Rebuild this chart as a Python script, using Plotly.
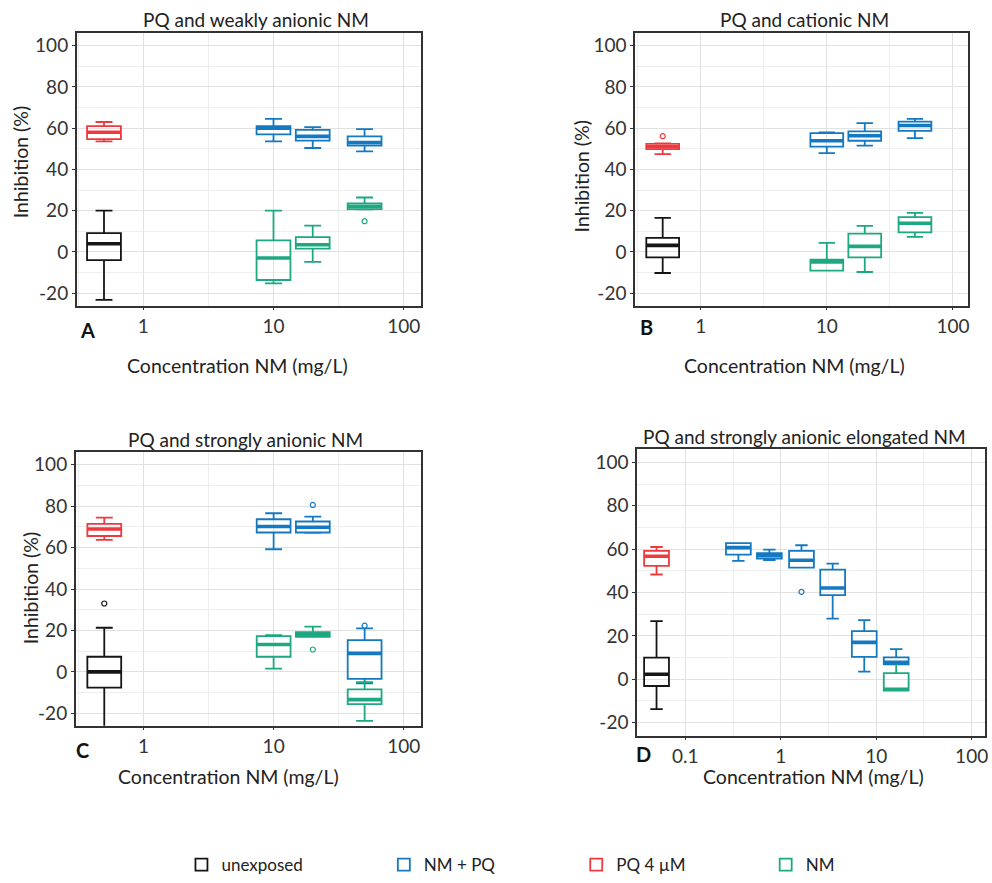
import numpy as np
import plotly.graph_objects as go

# ---------------- data (5-number summaries: low whisker, Q1, median, Q3, high whisker) ----------------
SERIES = ["unexposed", "NM + PQ", "PQ 4 µM", "NM"]
TICK_CONC = [0.1, 1, 10, 100]
TICK_LABELS = ["0.1", "1", "10", "100"]
Y_TICKS = [-20, 0, 20, 40, 60, 80, 100]
Y_TICK_LABELS = ["-20", "0", "20", "40", "60", "80", "100"]

# Panel A - PQ and weakly anionic NM
A_ctrl_conc = [0.5]
A_unexp = [[-23.2, -4.0, 4.0, 9.1, 20.0]]
A_pq = [[53.6, 54.7, 58.0, 61.0, 63.0]]
A_nm_conc = [10, 20, 50]
A_nmpq = [[53.6, 57.0, 60.0, 61.0, 64.5],
          [50.4, 54.0, 56.0, 59.2, 60.5],
          [48.8, 51.5, 53.0, 56.0, 59.5]]
A_nm = [[-15.2, -13.6, -2.9, 5.6, 20.0],
        [-4.8, 1.6, 3.5, 7.2, 12.8],
        [20.6, 20.8, 22.0, 23.5, 26.4]]
A_nm_out_conc = [50]
A_nm_out_val = [14.9]

# Panel B - PQ and cationic NM
B_ctrl_conc = [0.5]
B_unexp = [[-10.2, -2.6, 3.2, 6.8, 16.5]]
B_pq = [[47.4, 49.8, 51.0, 52.4, 52.6]]
B_pq_out_val = [56.1]
B_nm_conc = [10, 20, 50]
B_nmpq = [[47.9, 51.1, 53.9, 57.6, 58.0],
          [51.5, 53.9, 56.3, 58.4, 62.4],
          [55.2, 58.7, 61.3, 63.2, 64.5]]
B_nm = [[-9.0, -9.0, -4.8, -3.7, 4.4],
        [-9.7, -2.6, 2.7, 8.9, 12.6],
        [7.3, 9.5, 13.9, 16.9, 18.9]]

# Panel C - PQ and strongly anionic NM
C_ctrl_conc = [0.5]
C_unexp = [[-28.0, -7.6, 0.0, 7.3, 21.3]]
C_unexp_out_val = [33.0]
C_pq = [[63.7, 65.6, 69.0, 71.5, 74.5]]
C_nm_conc = [10, 20, 50]
C_nmpq = [[59.2, 67.3, 70.2, 73.7, 76.6],
          [67.1, 67.3, 69.8, 72.6, 75.0],
          [-5.5, -3.4, 8.9, 15.3, 21.0]]
C_nmpq_out_conc = [20, 50]
C_nmpq_out_val = [80.6, 22.3]
C_nm = [[1.6, 7.3, 13.2, 17.3, 17.7],
        [16.9, 16.9, 18.0, 19.2, 21.8],
        [-23.7, -15.6, -13.4, -8.5, -5.0]]
C_nm_out_conc = [20]
C_nm_out_val = [10.8]

# Panel D - PQ and strongly anionic elongated NM
D_ctrl_conc = [0.05]
D_unexp = [[-13.8, -3.1, 2.3, 10.0, 26.8]]
D_pq = [[48.3, 52.3, 56.7, 59.2, 61.0]]
D_nmpq_conc = [0.36, 0.76, 1.65, 3.5, 7.5, 16.2]
D_nmpq = [[54.6, 57.5, 60.7, 62.8, 62.8],
          [54.9, 55.6, 57.0, 58.2, 59.8],
          [51.5, 51.5, 54.9, 59.2, 61.8],
          [28.0, 38.8, 42.1, 50.6, 53.3],
          [3.5, 10.3, 17.0, 22.2, 27.3],
          [6.9, 6.9, 7.8, 10.1, 13.9]]
D_nmpq_out_conc = [1.65]
D_nmpq_out_val = [40.3]
D_nm_conc = [16.2]
D_nm = [[-5.2, -5.2, -4.6, 2.8, 7.8]]

# ---------------- styles ----------------
COLORS = {"unexposed": "#151515", "NM + PQ": "#1479C0", "PQ 4 µM": "#EE3A3E", "NM": "#1DA882"}
LEGEND_ID = {"unexposed": "legend", "NM + PQ": "legend2", "PQ 4 µM": "legend3", "NM": "legend4"}
FONT = "Lato"
BOX_W = 0.26          # box width in decades (log10 units)
FW, FH = 992, 883

fig = go.Figure()
shown = set()


def add_boxes(ax, concs, stats, name):
    pos = np.log10(np.array(concs, dtype=float))
    st = np.array(stats, dtype=float)
    col = COLORS[name]
    show = name not in shown
    shown.add(name)
    fig.add_trace(go.Box(
        x=pos, lowerfence=st[:, 0], q1=st[:, 1], median=st[:, 2], q3=st[:, 3], upperfence=st[:, 4],
        width=BOX_W, name=name, legendgroup=name, showlegend=show, legend=LEGEND_ID[name],
        line=dict(color=col, width=1.8), fillcolor="rgba(255,255,255,0)", boxpoints=False,
        hoverinfo="skip", xaxis="x" + ax, yaxis="y" + ax))
    # thicker median line (ggplot style)
    mx, my = [], []
    for p, m in zip(pos, st[:, 2]):
        mx += [p - BOX_W / 2, p + BOX_W / 2, None]
        my += [m, m, None]
    fig.add_trace(go.Scatter(x=mx, y=my, mode="lines", line=dict(color=col, width=3.6),
                             showlegend=False, hoverinfo="skip", xaxis="x" + ax, yaxis="y" + ax))


def add_outliers(ax, concs, vals, name):
    fig.add_trace(go.Scatter(
        x=np.log10(np.array(concs, dtype=float)), y=vals, mode="markers",
        marker=dict(symbol="circle", size=5, color="rgba(255,255,255,0.6)",
                    line=dict(color=COLORS[name], width=1.2)),
        showlegend=False, hoverinfo="skip", xaxis="x" + ax, yaxis="y" + ax))


# Panel A
add_boxes("", A_ctrl_conc, A_unexp, "unexposed")
add_boxes("", A_ctrl_conc, A_pq, "PQ 4 µM")
add_boxes("", A_nm_conc, A_nmpq, "NM + PQ")
add_boxes("", A_nm_conc, A_nm, "NM")
add_outliers("", A_nm_out_conc, A_nm_out_val, "NM")
# Panel B
add_boxes("2", B_ctrl_conc, B_unexp, "unexposed")
add_boxes("2", B_ctrl_conc, B_pq, "PQ 4 µM")
add_outliers("2", B_ctrl_conc, B_pq_out_val, "PQ 4 µM")
add_boxes("2", B_nm_conc, B_nmpq, "NM + PQ")
add_boxes("2", B_nm_conc, B_nm, "NM")
# Panel C
add_boxes("3", C_ctrl_conc, C_unexp, "unexposed")
add_outliers("3", C_ctrl_conc, C_unexp_out_val, "unexposed")
add_boxes("3", C_ctrl_conc, C_pq, "PQ 4 µM")
add_boxes("3", C_nm_conc, C_nmpq, "NM + PQ")
add_outliers("3", C_nmpq_out_conc, C_nmpq_out_val, "NM + PQ")
add_boxes("3", C_nm_conc, C_nm, "NM")
add_outliers("3", C_nm_out_conc, C_nm_out_val, "NM")
# Panel D
add_boxes("4", D_ctrl_conc, D_unexp, "unexposed")
add_boxes("4", D_ctrl_conc, D_pq, "PQ 4 µM")
add_boxes("4", D_nmpq_conc, D_nmpq, "NM + PQ")
add_outliers("4", D_nmpq_out_conc, D_nmpq_out_val, "NM + PQ")
add_boxes("4", D_nm_conc, D_nm, "NM")


def fx(px):
    return px / FW


def fy(py):
    return 1 - py / FH


def px_x(a, b):
    return [fx(a), fx(b)]


def px_y(top, bottom):
    return [fy(bottom), fy(top)]


TICKFONT = dict(family=FONT, size=19, color="#333333")


def xaxis(dom, rng, anchor):
    lo, hi = rng
    tv = [np.log10(c) for c in TICK_CONC if lo <= np.log10(c) <= hi]
    tt = [t for c, t in zip(TICK_CONC, TICK_LABELS) if lo <= np.log10(c) <= hi]
    return dict(domain=dom, range=rng, anchor=anchor, tickmode="array", tickvals=tv, ticktext=tt,
                showgrid=True, gridcolor="#e1e1e1", gridwidth=1, zeroline=False,
                minor=dict(tickmode="array", tickvals=[v + 0.5 for v in tv] + [tv[0] - 0.5],
                           showgrid=True, gridcolor="#eeeeee", gridwidth=1, ticks=""),
                showline=True, mirror=True, linecolor="#333333", linewidth=1.6,
                ticks="outside", ticklen=3, tickcolor="#333333", tickfont=TICKFONT)


def yaxis(dom, anchor):
    return dict(domain=dom, range=[-26, 106.2], anchor=anchor, tickmode="array",
                tickvals=Y_TICKS, ticktext=Y_TICK_LABELS,
                showgrid=True, gridcolor="#e1e1e1", gridwidth=1, zeroline=False,
                minor=dict(dtick=10, tick0=0, showgrid=True, gridcolor="#eeeeee", gridwidth=1, ticks=""),
                showline=True, mirror=True, linecolor="#333333", linewidth=1.6,
                ticks="outside", ticklen=3, tickcolor="#333333", tickfont=TICKFONT)


def legend_at(icon_center_px, y_px):
    return dict(orientation="h", x=fx(icon_center_px - 20), xanchor="left", y=fy(y_px), yanchor="middle",
                font=dict(family=FONT, size=17, color="#222222"), bgcolor="rgba(0,0,0,0)",
                borderwidth=0)


fig.update_layout(
    width=FW, height=FH, margin=dict(l=0, r=0, t=0, b=0),
    paper_bgcolor="white", plot_bgcolor="white", boxmode="overlay",
    font=dict(family=FONT, color="#222222"),
    xaxis=xaxis(px_x(77, 422), [-0.51, 2.13], "y"),
    yaxis=yaxis(px_y(33, 307), "x"),
    xaxis2=xaxis(px_x(637, 971), [-0.52, 2.12], "y2"),
    yaxis2=yaxis(px_y(33, 307), "x2"),
    xaxis3=xaxis(px_x(76, 422), [-0.52, 2.13], "y3"),
    yaxis3=yaxis(px_y(454, 729), "x3"),
    xaxis4=xaxis(px_x(639, 988), [-1.505, 2.14], "y4"),
    yaxis4=yaxis(px_y(451, 739), "x4"),
    legend=legend_at(202, 869),
    legend2=legend_at(405, 869),
    legend3=legend_at(598, 869),
    legend4=legend_at(788, 869),
)


def ann(text, x, y, size=19, angle=0, bold=False, color="#222222"):
    fig.add_annotation(text=("<b>%s</b>" % text) if bold else text, x=fx(x), y=fy(y),
                       xref="paper", yref="paper", showarrow=False, textangle=angle,
                       xanchor="center", yanchor="middle",
                       font=dict(family=FONT, size=size, color=color))


# titles
ann("PQ and weakly anionic NM", 257, 20)
ann("PQ and cationic NM", 807, 20)
ann("PQ and strongly anionic NM", 246, 442)
ann("PQ and strongly anionic elongated NM", 807, 438)
# x-axis titles
ann("Concentration NM (mg/L)", 238, 367, size=19.5)
ann("Concentration NM (mg/L)", 797, 367, size=19.5)
ann("Concentration NM (mg/L)", 229, 780, size=19.5)
ann("Concentration NM (mg/L)", 816, 780, size=19.5)
# y-axis titles
ann("Inhibition (%)", 20, 163, size=19.5, angle=-90)
ann("Inhibition (%)", 583, 177, size=19.5, angle=-90)
ann("Inhibition (%)", 30, 591, size=19.5, angle=-90)
# panel letters
ann("A", 88, 332, size=20, bold=True, color="#111111")
ann("B", 648, 328, size=20, bold=True, color="#111111")
ann("C", 83, 753, size=20, bold=True, color="#111111")
ann("D", 645, 757, size=20, bold=True, color="#111111")

# remove the default page margin so the 992x883 figure fills the window exactly
fig.write_html("out.html", config={"displayModeBar": False},
               post_script="document.body.style.margin='0';document.body.style.overflow='hidden';")
